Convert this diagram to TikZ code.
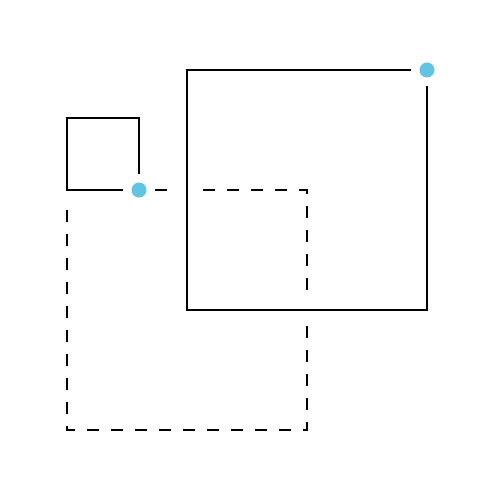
\documentclass[tikz,border=0pt]{standalone}
\begin{document}
\begin{tikzpicture}[x=1pt,y=-1pt,
  solidline/.style={line width=2.8pt,line join=miter},
  dashline/.style={line width=2.8pt,dash pattern=on 12pt off 12pt,dash phase=8pt},
  halo/.style={white,line width=24pt},
  dothalo/.style={fill=white},
  dotfill/.style={fill=dotblue}]
\definecolor{dotblue}{RGB}{98,195,227}
\useasboundingbox (0,0) rectangle (500,500);
% dashed square
\coordinate (d1) at (67,190);
\coordinate (d2) at (307,190);
\coordinate (d3) at (307,430);
\coordinate (d4) at (67,430);
\coordinate (d5) at (67,200);
\draw[dashline] (d1) -- (d2) -- (d3) -- (d4) -- (d5);
% big square with halo
\coordinate (b1) at (187,70);
\coordinate (b2) at (427,70);
\coordinate (b3) at (427,310);
\coordinate (b4) at (187,310);
\draw[halo] (b1) -- (b2) -- (b3) -- (b4) -- cycle;
\draw[solidline] (b1) -- (b2) -- (b3) -- (b4) -- cycle;
% small square
\coordinate (s1) at (67,118);
\coordinate (s2) at (139,118);
\coordinate (s3) at (139,190);
\coordinate (s4) at (67,190);
\draw[solidline] (s1) -- (s2) -- (s3) -- (s4) -- cycle;
% dots
\node[circle,dothalo,minimum size=32pt,inner sep=0pt] (h1) at (s3) {};
\node[circle,dothalo,minimum size=32pt,inner sep=0pt] (h2) at (b2) {};
\node[circle,dotfill,minimum size=15pt,inner sep=0pt] (p1) at (s3) {};
\node[circle,dotfill,minimum size=15pt,inner sep=0pt] (p2) at (b2) {};
\end{tikzpicture}
\end{document}
